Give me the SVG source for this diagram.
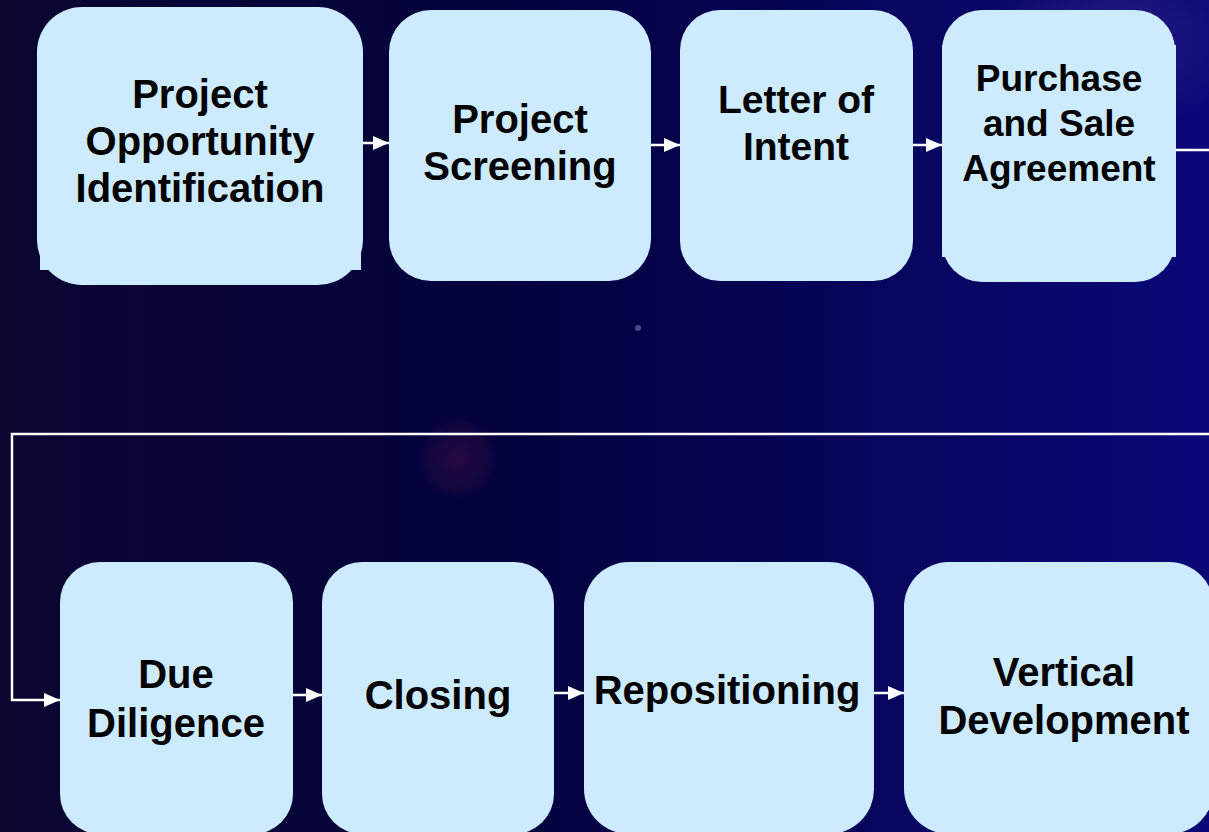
<svg xmlns="http://www.w3.org/2000/svg" width="1209" height="832" viewBox="0 0 1209 832">
<defs>
<linearGradient id="bg" x1="0" y1="0" x2="1" y2="0">
<stop offset="0" stop-color="#0A0630"/>
<stop offset="0.45" stop-color="#04023F"/>
<stop offset="1" stop-color="#0A0878"/>
</linearGradient>
<radialGradient id="glow1" cx="0.5" cy="0.5" r="0.5">
<stop offset="0" stop-color="#3A2A8A" stop-opacity="0.6"/>
<stop offset="1" stop-color="#3A2A8A" stop-opacity="0"/>
</radialGradient>
<radialGradient id="glow2" cx="0.5" cy="0.5" r="0.5">
<stop offset="0" stop-color="#2A0A40" stop-opacity="0.9"/>
<stop offset="0.8" stop-color="#1A0840" stop-opacity="0.6"/>
<stop offset="1" stop-color="#1A0840" stop-opacity="0"/>
</radialGradient>
<marker id="ah" viewBox="0 0 16 14" refX="16" refY="7" markerWidth="16" markerHeight="14" markerUnits="userSpaceOnUse" orient="auto">
<path d="M0,0 L16,7 L0,14 Z" fill="#FFFFFF"/>
</marker>
<style>
.box{fill:#CCEBFE;}
.lbl{font-family:"Liberation Sans",Arial,sans-serif;font-weight:bold;font-size:40px;fill:#000000;text-anchor:middle;}
.con{stroke:#FFFFFF;stroke-width:2.5;fill:none;}
</style>
</defs>
<rect x="0" y="0" width="1209" height="832" fill="url(#bg)"/>
<ellipse cx="1110" cy="40" rx="140" ry="90" fill="url(#glow1)"/>
<ellipse cx="458" cy="458" rx="38" ry="40" fill="url(#glow2)"/>
<circle cx="638" cy="328" r="3" fill="#5A5A9A" opacity="0.8"/>

<g id="connectors">
<line class="con" x1="360" y1="143" x2="389" y2="143" marker-end="url(#ah)"/>
<line class="con" x1="651" y1="145" x2="680" y2="145" marker-end="url(#ah)"/>
<line class="con" x1="913" y1="145" x2="942" y2="145" marker-end="url(#ah)"/>
<polyline class="con" points="1175,150 1212,150"/>
<polyline class="con" points="1212,434 12,434 12,700 60,700" marker-end="url(#ah)"/>
<line class="con" x1="293" y1="695" x2="322" y2="695" marker-end="url(#ah)"/>
<line class="con" x1="554" y1="693" x2="584" y2="693" marker-end="url(#ah)"/>
<line class="con" x1="874" y1="693" x2="904" y2="693" marker-end="url(#ah)"/>
</g>

<g id="n1">
<rect class="box" x="37" y="7" width="326" height="278" rx="45"/>
<rect class="box" x="40" y="230" width="321" height="40"/>
<text class="lbl" x="200" y="108">Project</text>
<text class="lbl" x="200" y="155">Opportunity</text>
<text class="lbl" x="200" y="202">Identification</text>
</g>
<g id="n2">
<rect class="box" x="389" y="10" width="262" height="271" rx="42"/>
<text class="lbl" x="520" y="133">Project</text>
<text class="lbl" x="520" y="180">Screening</text>
</g>
<g id="n3">
<rect class="box" x="680" y="10" width="233" height="271" rx="40"/>
<text class="lbl" x="796" y="113" style="font-size:39px">Letter of</text>
<text class="lbl" x="796" y="160" style="font-size:39px">Intent</text>
</g>
<g id="n4">
<rect class="box" x="942" y="10" width="233" height="272" rx="40"/>
<rect class="box" x="942" y="45" width="234" height="212"/>
<text class="lbl" x="1059" y="91" style="font-size:37px">Purchase</text>
<text class="lbl" x="1059" y="136" style="font-size:37px">and Sale</text>
<text class="lbl" x="1059" y="181" style="font-size:37px">Agreement</text>
</g>
<g id="n5">
<rect class="box" x="60" y="562" width="233" height="272" rx="40"/>
<text class="lbl" x="176" y="688">Due</text>
<text class="lbl" x="176" y="737">Diligence</text>
</g>
<g id="n6">
<rect class="box" x="322" y="562" width="232" height="272" rx="40"/>
<text class="lbl" x="438" y="709">Closing</text>
</g>
<g id="n7">
<rect class="box" x="584" y="562" width="290" height="272" rx="45"/>
<text class="lbl" x="727" y="704">Repositioning</text>
</g>
<g id="n8">
<rect class="box" x="904" y="562" width="310" height="272" rx="45"/>
<text class="lbl" x="1064" y="686">Vertical</text>
<text class="lbl" x="1064" y="734">Development</text>
</g>
</svg>
